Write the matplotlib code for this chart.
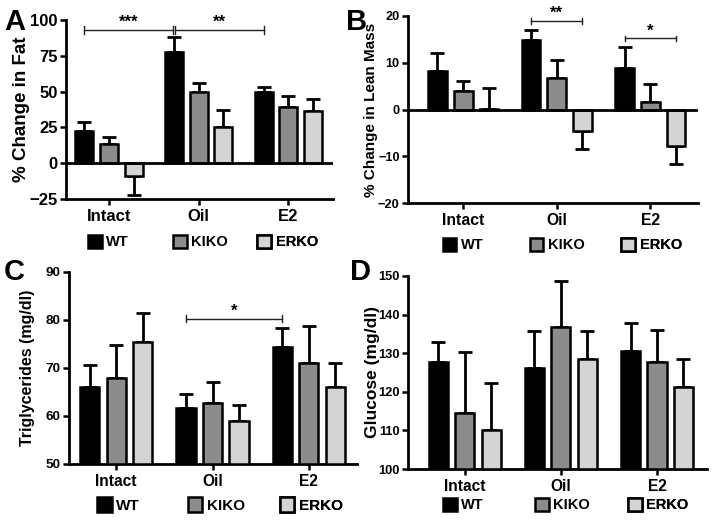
import matplotlib.pyplot as plt
import numpy as np
from matplotlib.patches import Patch

plt.rcParams['font.family'] = ['Liberation Sans', 'DejaVu Sans']
plt.rcParams['font.weight'] = 'bold'

groups = ['Intact', 'Oil', 'E2']
genotypes = ['WT', 'KIKO', 'ERKO']
colors = ['#000000', '#8c8c8c', '#d4d4d4']

# panel A - % change in fat (mean, error end)
fat = np.array([[22.3, 13.5, -9.0], [78.0, 49.5, 25.5], [49.5, 39.0, 36.5]])
fat_err = np.array([[29.0, 18.0, -22.5], [88.0, 56.0, 37.5], [53.0, 47.0, 44.5]])

# panel B - % change in lean mass
lean = np.array([[8.2, 4.0, 0.2], [14.8, 6.8, -4.5], [8.8, 1.5, -7.8]])
lean_err = np.array([[12.0, 6.2, 4.7], [17.0, 10.5, -8.5], [13.3, 5.5, -11.7]])

# panel C - triglycerides
trig = np.array([[66.0, 68.0, 75.5], [61.7, 62.8, 59.0], [74.4, 71.0, 66.0]])
trig_err = np.array([[70.6, 74.7, 81.4], [64.5, 67.0, 62.2], [78.4, 78.8, 71.0]])

# panel D - glucose
gluc = np.array([[127.8, 114.5, 110.0], [126.2, 136.8, 128.5], [130.5, 127.6, 121.2]])
gluc_err = np.array([[132.8, 130.2, 122.2], [135.8, 148.7, 135.8], [137.8, 136.0, 128.6]])

WIDTH = 0.2
OFFSET = 0.275


def bar_panel(ax, vals, ends, ylim, yticks, ylabel, ylsize, xlim,
              zero_line=False, ticksize=11, labsize=11.5):
    x = np.arange(len(groups))
    for j in range(3):
        pos = x + (j - 1) * OFFSET
        v = vals[:, j]
        e = ends[:, j] - v
        lower = np.where(e < 0, -e, 0)
        upper = np.where(e > 0, e, 0)
        ax.errorbar(pos, v, yerr=[lower, upper], fmt='none', ecolor='black',
                    elinewidth=2, capsize=5, capthick=2, zorder=2)
        bottom = 0 if zero_line else ylim[0]
        ax.bar(pos, v - bottom, WIDTH, bottom=bottom, color=colors[j],
               edgecolor='black', linewidth=1.8, zorder=3)
    if zero_line:
        ax.axhline(0, color='black', lw=2, zorder=4)
    ax.set_ylim(*ylim)
    ax.set_xlim(*xlim)
    ax.set_yticks(yticks)
    ax.set_xticks(x)
    ax.set_xticklabels(groups, fontsize=labsize, fontweight='bold')
    ax.tick_params(axis='y', labelsize=ticksize, width=1.8, length=4, pad=2)
    ax.tick_params(axis='x', width=1.8, length=4, pad=3)
    for lab in ax.get_yticklabels():
        lab.set_fontweight('bold')
    for s in ['top', 'right']:
        ax.spines[s].set_visible(False)
    for s in ['left', 'bottom']:
        ax.spines[s].set_linewidth(2)
    ax.set_ylabel(ylabel, fontsize=ylsize, fontweight='bold')


def add_legend(ax, xs, yc, fs=10.5):
    # one legend per genotype so the entries sit at an even pitch
    for c, name, xl in zip(colors, genotypes, xs):
        leg = ax.legend([Patch(facecolor=c, edgecolor='black', linewidth=1.8)], [name],
                        loc='center left', bbox_to_anchor=(xl, yc), frameon=False,
                        handlelength=0.95, handleheight=1.05, handletextpad=0.3,
                        borderpad=0, borderaxespad=0,
                        prop={'weight': 'bold', 'size': fs})
        ax.add_artist(leg)


def bracket(ax, x1, x2, y, h, label, fs=12):
    ax.plot([x1, x2], [y, y], color='#222222', lw=1)
    for xb in [x1, x2]:
        ax.plot([xb, xb], [y - h, y + h], color='#222222', lw=1)
    ax.text((x1 + x2) / 2, y, label, ha='center', va='bottom', fontsize=fs)


fig = plt.figure(figsize=(7.14, 5.29), dpi=100)
W, H = 714, 529


def axes_px(l, r, t, b):
    return fig.add_axes([l / W, 1 - b / H, (r - l) / W, (b - t) / H])


axA = axes_px(66, 333, 20, 199)
bar_panel(axA, fat, fat_err, (-25, 100), [-25, 0, 25, 50, 75, 100], '% Change in Fat', 13.5,
          (-0.48, 2.5), zero_line=True, ticksize=12, labsize=12)
axA.yaxis.set_label_coords(-0.135, 0.5)
add_legend(axA, [0.083, 0.4, 0.717], -0.24)
bracket(axA, -OFFSET, 1 - OFFSET - 0.012, 93, 2.5, '***')
bracket(axA, 1 - OFFSET + 0.012, 2 - OFFSET, 93, 2.5, '**')

axB = axes_px(408, 698, 16, 203)
bar_panel(axB, lean, lean_err, (-20, 20), [-20, -10, 0, 10, 20], '% Change in Lean Mass', 11,
          (-0.59, 2.51), zero_line=True, ticksize=9.2, labsize=11.3)
axB.yaxis.set_label_coords(-0.105, 0.5)
add_legend(axB, [0.119, 0.419, 0.736], -0.225)
bracket(axB, 1 - OFFSET, 1 + OFFSET, 18.9, 0.6, '**')
bracket(axB, 2 - OFFSET, 2 + OFFSET, 15.2, 0.6, '*')

axC = axes_px(69, 357, 272, 464)
bar_panel(axC, trig, trig_err, (50, 90), [50, 60, 70, 80, 90], 'Triglycerides (mg/dl)', 11.5,
          (-0.49, 2.5), ticksize=9.7, labsize=11.2)
axC.yaxis.set_label_coords(-0.118, 0.5)
add_legend(axC, [0.098, 0.413, 0.731], -0.214, fs=11)
bracket(axC, 1 - OFFSET, 2 - OFFSET, 80.3, 0.7, '*')

axD = axes_px(408, 707, 276, 469)
bar_panel(axD, gluc, gluc_err, (100, 150), [100, 110, 120, 130, 140, 150], 'Glucose (mg/dl)', 12.5,
          (-0.59, 2.52), ticksize=9.3, labsize=11.2)
axD.yaxis.set_label_coords(-0.094, 0.5)
add_legend(axD, [0.117, 0.425, 0.736], -0.187)

for lab, xp, yp in [('A', 4, 8), ('B', 346, 8), ('C', 4, 258), ('D', 350, 258)]:
    fig.text(xp / W, 1 - yp / H, lab, fontsize=21, fontweight='bold', va='top', ha='left')

fig.savefig('out.png', dpi=100)
